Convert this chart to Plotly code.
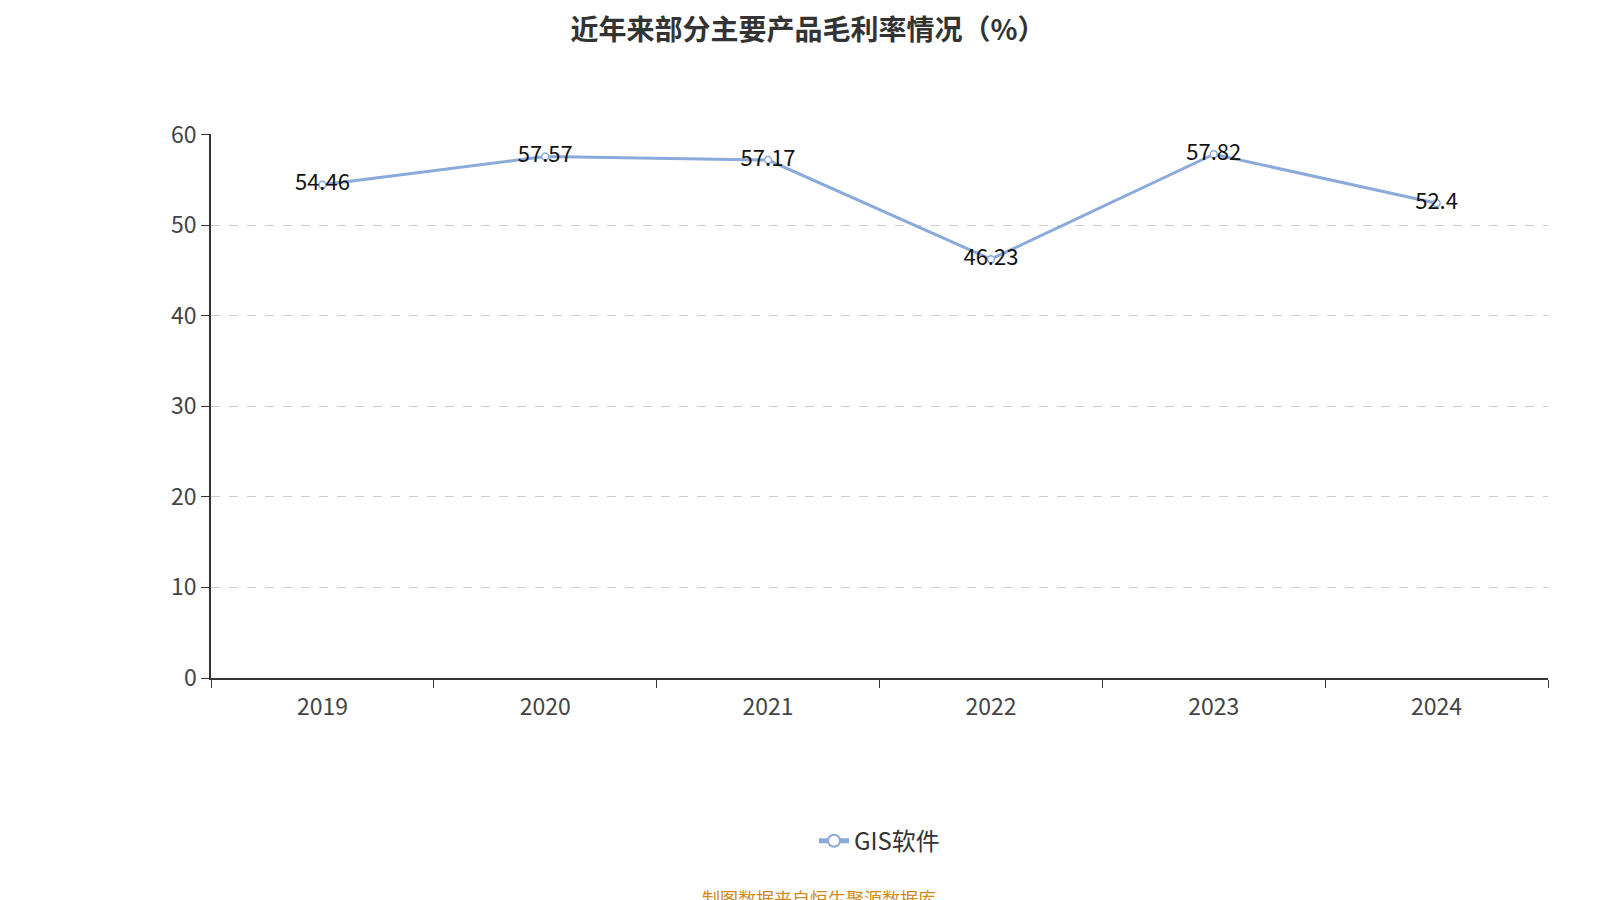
import plotly.graph_objects as go

years = ["2019", "2020", "2021", "2022", "2023", "2024"]
gis_margin = [54.46, 57.57, 57.17, 46.23, 57.82, 52.4]
value_labels = ["54.46", "57.57", "57.17", "46.23", "57.82", "52.4"]

font_family = "Noto Sans CJK SC, Noto Sans, sans-serif"

fig = go.Figure()
fig.add_trace(go.Scatter(
    x=years, y=gis_margin, mode="lines+markers+text", name="GIS软件",
    text=value_labels, textposition="middle center",
    textfont=dict(size=22, color="#111111"),
    line=dict(color="#8aaadb", width=3),
    marker=dict(size=7, color="white", line=dict(color="#8aaadb", width=1.5)),
))

fig.update_layout(
    width=1600, height=900, plot_bgcolor="white", paper_bgcolor="white",
    font=dict(family=font_family, size=20, color="#444444"),
    title=dict(text="<b>近年来部分主要产品毛利率情况（%）</b>", x=0.5, xanchor="center",
               y=0.975, yanchor="middle", font=dict(size=28, color="#333333")),
    margin=dict(l=203, r=60, t=126, b=230),
    showlegend=True,
    legend=dict(orientation="h", x=0.5, xanchor="center", y=-0.3, yanchor="middle",
                font=dict(size=24, color="#333333"), itemsizing="constant"),
    annotations=[dict(text="制图数据来自恒生聚源数据库", x=0.455, xref="paper", xanchor="center",
                      y=-0.405, yref="paper", yanchor="middle", showarrow=False,
                      font=dict(size=18, color="#d08a1a"))],
)
fig.update_xaxes(type="category", range=[-0.5, 5.5], showline=True, linecolor="#333333",
                 linewidth=1.5, ticks="outside", tickson="boundaries", ticklen=8,
                 tickcolor="#333333", showgrid=False, ticklabelstandoff=8,
                 tickfont=dict(size=23, color="#444444"))
fig.update_yaxes(range=[0, 60.05], tickvals=[0, 10, 20, 30, 40, 50, 60], showline=True,
                 linecolor="#333333", linewidth=1.5, ticks="outside", ticklen=8,
                 tickcolor="#333333", showgrid=True, gridcolor="#cccccc", griddash="dash",
                 gridwidth=1.2, zeroline=False, tickfont=dict(size=23, color="#444444"))

fig.write_html("out.html")
